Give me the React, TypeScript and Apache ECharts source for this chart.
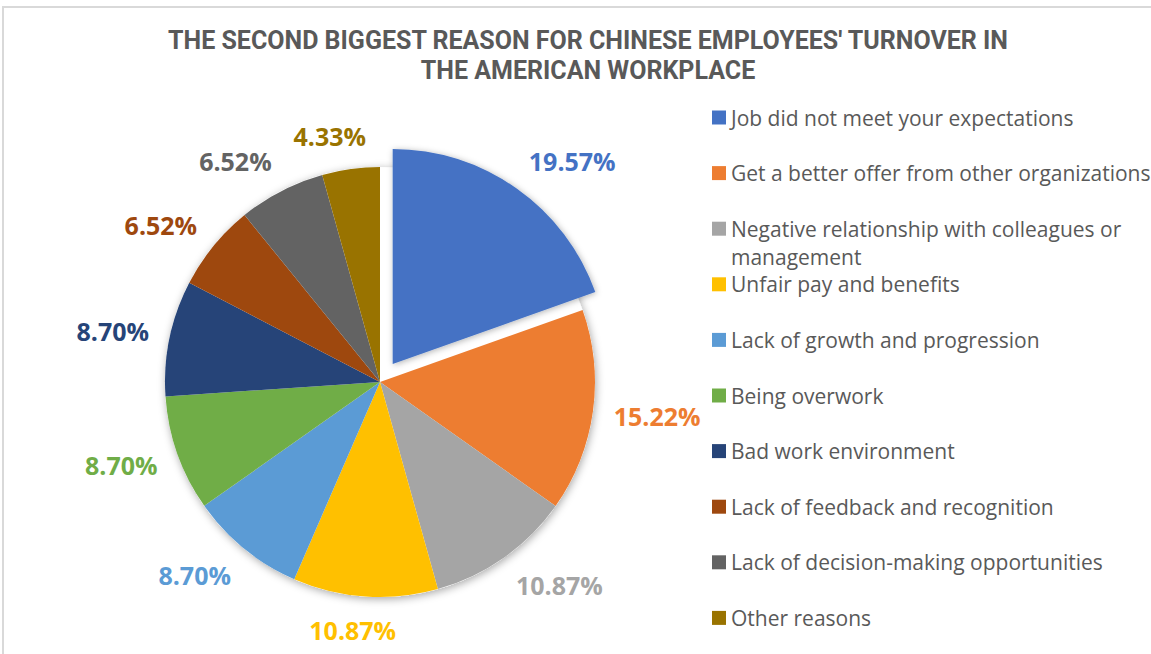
import React, { useEffect, useRef } from "react";
import * as echarts from "echarts";

const titleText =
  "THE SECOND BIGGEST REASON FOR CHINESE EMPLOYEES' TURNOVER IN\nTHE AMERICAN WORKPLACE";

const categories = [
  "Job did not meet your expectations",
  "Get a better offer from other organizations",
  "Negative relationship with colleagues or management",
  "Unfair pay and benefits",
  "Lack of growth and progression",
  "Being overwork",
  "Bad work environment",
  "Lack of feedback and recognition",
  "Lack of decision-making opportunities",
  "Other reasons",
];

const values = [19.57, 15.22, 10.87, 10.87, 8.7, 8.7, 8.7, 6.52, 6.52, 4.33];

const colors = [
  "#4472C4",
  "#ED7D31",
  "#A5A5A5",
  "#FFC000",
  "#5B9BD5",
  "#70AD47",
  "#264478",
  "#9E480E",
  "#636363",
  "#997300",
];

const explodedIndex = 0;

const CX = 380;
const CY = 382;
const R = 215;
const OFFSET = 22;
const LABEL_EDGE = 236;
const TEXT_COLOR = "#595959";

export default function App() {
  const ref = useRef<HTMLDivElement>(null);

  useEffect(() => {
    document.body.style.margin = "0";
    if (!ref.current) return;
    const chart = echarts.init(ref.current, undefined, { renderer: "svg" });

    const data = categories.map((name, i) => ({
      name,
      value: values[i],
      selected: i === explodedIndex,
      itemStyle:
        i === explodedIndex
          ? {
              color: colors[i],
              shadowBlur: 6,
              shadowColor: "rgba(0,0,0,0.3)",
              shadowOffsetX: 1,
              shadowOffsetY: 1,
            }
          : { color: colors[i] },
      label: { color: colors[i] },
    }));

    chart.setOption({
      animation: false,
      backgroundColor: "#ffffff",
      title: {
        text: titleText,
        left: 583,
        top: 20,
        textAlign: "center",
        textStyle: {
          fontFamily: "Roboto",
          fontWeight: "bold",
          fontSize: 25,
          lineHeight: 30,
          color: TEXT_COLOR,
        },
      },
      legend: {
        orient: "vertical",
        left: 712,
        top: 107,
        padding: 0,
        itemWidth: 14,
        itemHeight: 14,
        itemGap: 34.6,
        icon: "rect",
        selectedMode: false,
        data: categories,
        formatter: (name: string) =>
          name === categories[2] ? "Negative relationship with colleagues or" : name,
        textStyle: {
          fontFamily: "Open Sans",
          fontSize: 21,
          lineHeight: 20,
          color: TEXT_COLOR,
        },
      },
      graphic: [
        {
          type: "rect",
          silent: true,
          shape: { x: 3, y: 7, width: 1300, height: 800 },
          style: { fill: "none", stroke: "#D9D9D9", lineWidth: 2 },
        },
        {
          type: "text",
          silent: true,
          x: 731,
          y: 257,
          style: {
            text: "management",
            fontFamily: "Open Sans",
            fontSize: 21,
            fill: TEXT_COLOR,
            verticalAlign: "middle",
          },
        },
      ],
      series: [
        {
          type: "pie",
          name: "shadow",
          silent: true,
          center: [CX, CY],
          radius: R,
          z: 1,
          label: { show: false },
          labelLine: { show: false },
          itemStyle: {
            color: "#ffffff",
            shadowBlur: 8,
            shadowColor: "rgba(0,0,0,0.35)",
            shadowOffsetX: 1,
            shadowOffsetY: 2,
          },
          emphasis: { disabled: true },
          data: [{ name: "__bg", value: 1 }],
        },
        {
          type: "pie",
          name: "Reasons",
          center: [CX, CY],
          radius: R,
          startAngle: 90,
          clockwise: true,
          z: 2,
          selectedMode: "single",
          selectedOffset: OFFSET,
          avoidLabelOverlap: false,
          emphasis: { disabled: true },
          select: { itemStyle: {} },
          label: {
            show: true,
            position: "inside",
            fontFamily: "Open Sans",
            fontWeight: "bold",
            fontSize: 25,
            textBorderWidth: 0,
            formatter: (p: any) => Number(p.value).toFixed(2) + "%",
          },
          labelLine: { show: false },
          labelLayout: (p: any) => {
            // Default inside label sits on the slice's mid-angle ray; move it
            // outward so the label box hugs the pie like Excel's outside-end labels.
            const r = p.labelRect;
            const lx = r.x + r.width / 2;
            const ly = r.y + r.height / 2;
            const vx = lx - CX;
            const vy = ly - CY;
            const d = Math.hypot(vx, vy) || 1;
            const ux = vx / d;
            const uy = vy / d;
            const fx = Math.max(-1, Math.min(1, 3.7 * ux));
            const tx = CX + LABEL_EDGE * ux + (r.width / 2) * fx;
            const ty = CY + LABEL_EDGE * uy + (r.height / 2) * uy;
            return { dx: tx - lx, dy: ty - ly };
          },
          data,
        },
      ],
    });

    return () => chart.dispose();
  }, []);

  return <div ref={ref} style={{ width: 1151, height: 654 }} />;
}
